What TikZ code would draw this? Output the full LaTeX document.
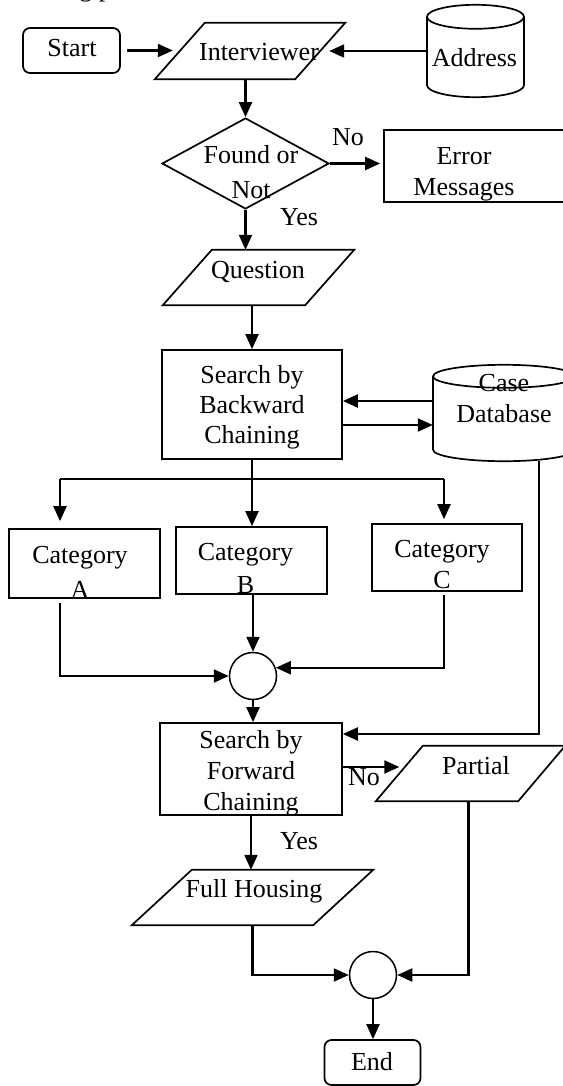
\documentclass[tikz,border=0pt]{standalone}
\usepackage{fontspec}
\setmainfont{Liberation Serif}
\usetikzlibrary{shapes.geometric,arrows.meta,calc}
\newcommand\mypgram[2]{%
  \draw[shapeline] ([xshift=#2]#1.north west) -- ([xshift=#2]#1.north east)
    -- ([xshift=-#2]#1.south east) -- ([xshift=-#2]#1.south west) -- cycle;}
\newcommand\mycyl[3]{%
  \path (#1.north) ++(0,-#2) coordinate (#1-top);
  \path (#1.south) ++(0,#2) coordinate (#1-bot);
  \draw[shapeline] (#1-top) ellipse [x radius=#3, y radius=#2];
  \draw[shapeline] ([xshift=-#3]#1-top) -- ([xshift=-#3]#1-bot)
    arc[start angle=180, end angle=360, x radius=#3, y radius=#2]
    -- ([xshift=#3]#1-top);}
\begin{document}
\begin{tikzpicture}[x=1pt,y=1pt,
  shapeline/.style={line width=1.7pt},
  shp/.style={draw, line width=1.7pt, inner sep=0pt},
  rbox/.style={shp, rounded corners=7pt},
  ghost/.style={inner sep=0pt},
  txt/.style={inner sep=0pt, align=center, font=\fontsize{26}{30}\selectfont},
  conn/.style={line width=2.1pt},
  arr/.style={conn, -{Triangle[length=15pt,width=13pt]}}]
\useasboundingbox (0,0) rectangle (562,-1086);
\fill[white] (0,0) rectangle (562,-1086);

% fragment of text cut at the top
\begin{scope}
\clip (0,0) rectangle (562,-1086);
\node[txt, anchor=base west] (frag) at (59,3) {ing p};
\end{scope}

% ---------- shapes ----------
\node[rbox, minimum width=97, minimum height=45] (st) at (71.5,-50.5) {};
\node[ghost, minimum width=140, minimum height=56] (iv) at (250,-51) {};
\mypgram{iv}{25}
\node[ghost, minimum width=97, minimum height=92] (addr) at (475.5,-51) {};
\mycyl{addr}{12}{48.5}
\node[shp, diamond, minimum width=167, minimum height=91] (dia) at (245.5,-163.5) {};
\node[shp, minimum width=182, minimum height=72] (err) at (475,-166) {};
\node[ghost, minimum width=142, minimum height=55] (q) at (258.5,-277.5) {};
\mypgram{q}{24.5}
\node[shp, minimum width=180, minimum height=109] (sb) at (252,-404.5) {};
\node[ghost, minimum width=142, minimum height=96] (cdb) at (504,-413) {};
\mycyl{cdb}{11.5}{71}
\node[shp, minimum width=151, minimum height=69] (ca) at (84.5,-563.5) {};
\node[shp, minimum width=151, minimum height=67] (cb) at (251.5,-560.5) {};
\node[shp, minimum width=150, minimum height=67] (cc) at (447,-557.5) {};
\node[shp, circle, line width=1.5pt, minimum size=47] (c1) at (253,-676) {};
\node[shp, minimum width=182, minimum height=92] (sf) at (251,-769) {};
\node[ghost, minimum width=142, minimum height=55] (pa) at (470.5,-773.5) {};
\mypgram{pa}{23.5}
\node[ghost, minimum width=181, minimum height=55] (fh) at (252.5,-897.5) {};
\mypgram{fh}{30}
\node[shp, circle, line width=1.5pt, minimum size=47] (c2) at (373,-975) {};
\node[rbox, minimum width=96, minimum height=45] (end) at (372.5,-1062.5) {};

% ---------- texts ----------
\node[txt] (tst) at (72,-48) {Start};
\node[txt] (tiv) at (259,-52) {Interviewer};
\node[txt] (taddr) at (474.5,-58) {Address};
\node[txt] (tdia) at (251,-172) {Found or\\[5pt]Not};
\node[txt] (tno1) at (348,-137) {No};
\node[txt] (tyes1) at (299,-217) {Yes};
\node[txt] (terr) at (464,-174.5) {Error\\[1pt]Messages};
\node[txt] (tq) at (258,-272) {Question};
\node[txt] (tsb) at (252,-407) {Search by\\Backward\\Chaining};
\node[txt] (tcdb) at (504,-398.5) {Case\\[1pt]Database};
\node[txt] (tca) at (80,-572) {Category\\[5pt]A};
\node[txt] (tcb) at (245.5,-568.5) {Category\\[3pt]B};
\node[txt] (tcc) at (442,-564.5) {Category\\[1pt]C};
\node[txt] (tsf) at (251,-773) {Search by\\[1pt]Forward\\[1pt]Chaining};
\node[txt] (tno2) at (364,-777) {No};
\node[txt] (tyes2) at (299,-841) {Yes};
\node[txt] (tpa) at (476,-766) {Partial};
\node[txt] (tfh) at (254,-891) {Full Housing};
\node[txt] (tend) at (372,-1062) {End};

% ---------- connectors ----------
\draw[arr] ([xshift=6]st.east) -- ([xshift=-7]iv.west |- st.east);
\draw[arr] (addr.west) -- ([xshift=9]iv.east |- addr.west);
\draw[arr] (iv.south -| dia.north) -- (dia.north);
\draw[arr] (dia.east) -- ([xshift=-3]err.west |- dia.east);
\draw[arr] (dia.south) -- (dia.south |- q.north);
\draw[arr] (sb.north |- q.south) -- (sb.north);
\draw[arr] ([yshift=12]cdb.west) -- ([yshift=12]cdb.west -| sb.east);
\draw[arr] ([yshift=-12]cdb.west -| sb.east) -- ([yshift=-12]cdb.west);
\coordinate (jA) at (60,-479);
\coordinate (jC) at (444,-479);
\draw[conn] (jA) -- (jC);
\draw[arr] (sb.south) -- (sb.south |- cb.north);
\draw[arr] (jA) -- ([yshift=7]jA |- ca.north);
\draw[arr] (jC) -- ([yshift=4]jC |- cc.north);
\draw[arr] ([yshift=-4]jA |- ca.south) |- (c1.west);
\draw[arr] ([yshift=-3]jC |- cc.south) |- (c1.20);
\draw[arr] (c1.north |- cb.south) -- (c1.north);
\draw[arr] (c1.south) -- (c1.south |- sf.north);
\draw[arr] ([xshift=35]cdb.south) |- ([yshift=35]sf.east);
\draw[arr] ([yshift=2]sf.east) -- ([yshift=2]sf.east -| pa.west);
\draw[arr] (sf.south) -- (sf.south |- fh.north);
\draw[arr] (fh.south) |- (c2.west);
\draw[arr] ([xshift=-2]pa.south) |- (c2.east);
\draw[arr] (c2.south) -- (c2.south |- end.north);
\end{tikzpicture}
\end{document}
